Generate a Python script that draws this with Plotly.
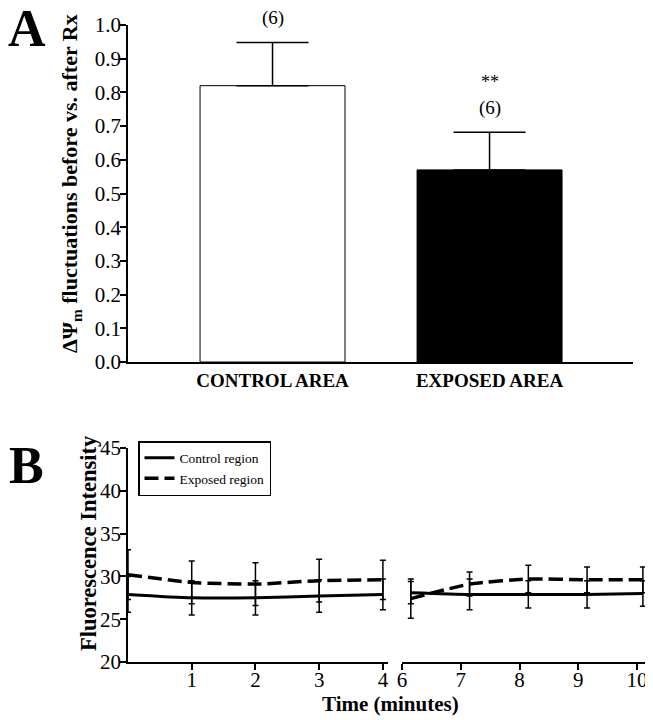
import plotly.graph_objects as go

# The page body adds an 8px margin, so the figure is drawn 8px in from the
# window's top-left corner; layout pixel targets below are window pixels.
OFF = 8
W, H = 653 - OFF, 720 - OFF
SERIF = "Liberation Serif, Times New Roman, serif"

# ---- Panel A data ----
areas = ["CONTROL AREA", "EXPOSED AREA"]
ratio_mean = [0.820, 0.570]
ratio_sem = [0.128, 0.112]
bar_fill = ["white", "black"]
n_labels = ["(6)", "(6)"]
sig_labels = ["", "**"]

# ---- Panel B data ----
t_early = [0, 1, 2, 3, 4]
ctrl_early = [27.9, 27.5, 27.5, 27.7, 27.9]
ctrl_early_err = [2.1, 2.0, 2.0, 1.9, 1.8]
expo_early = [30.2, 29.3, 29.1, 29.5, 29.6]
expo_early_err = [2.9, 2.5, 2.5, 2.5, 2.3]

t_late = [6.15, 7.15, 8.15, 9.15, 10.1]
ctrl_late = [28.1, 27.9, 27.9, 27.9, 28.0]
ctrl_late_err = [1.3, 1.8, 1.6, 1.6, 1.5]
expo_late = [27.4, 29.1, 29.7, 29.6, 29.6]
expo_late_err = [2.3, 1.4, 1.6, 1.5, 1.5]

YMAX_A = 1.0

def px(x):
    return (x - OFF) / W

def py(y):
    return 1 - (y - OFF) / H

fig = go.Figure()

# Panel A bars
fig.add_trace(go.Bar(
    x=[0, 1], y=ratio_mean, width=0.668,
    marker=dict(color=bar_fill, line=dict(color="black", width=1)),
    error_y=dict(type="data", symmetric=False, array=ratio_sem,
                 arrayminus=[0, 0], color="black", thickness=1.5, width=36),
    xaxis="x", yaxis="y", showlegend=False,
))

# Panel B lines
err_style = dict(color="black", thickness=1.5, width=3)
fig.add_trace(go.Scatter(
    x=t_early, y=ctrl_early, mode="lines", name="Control region",
    line=dict(color="black", width=3, shape="spline", smoothing=0.6),
    error_y=dict(type="data", array=ctrl_early_err, **err_style),
    xaxis="x2", yaxis="y2", cliponaxis=False, legendgroup="c",
))
fig.add_trace(go.Scatter(
    x=t_early, y=expo_early, mode="lines", name="Exposed region",
    line=dict(color="black", width=3.5, dash="14px,6px", shape="spline", smoothing=0.6),
    error_y=dict(type="data", array=expo_early_err, **err_style),
    xaxis="x2", yaxis="y2", cliponaxis=False, legendgroup="e",
))
fig.add_trace(go.Scatter(
    x=t_late, y=ctrl_late, mode="lines", name="Control region",
    line=dict(color="black", width=3, shape="spline", smoothing=0.6),
    error_y=dict(type="data", array=ctrl_late_err, **err_style),
    xaxis="x3", yaxis="y2", cliponaxis=False, showlegend=False, legendgroup="c",
))
fig.add_trace(go.Scatter(
    x=t_late, y=expo_late, mode="lines", name="Exposed region",
    line=dict(color="black", width=3.5, dash="14px,6px", shape="spline", smoothing=0.6),
    error_y=dict(type="data", array=expo_late_err, **err_style),
    xaxis="x3", yaxis="y2", cliponaxis=False, showlegend=False, legendgroup="e",
))

tickfont = dict(family=SERIF, size=21, color="black")
axline = dict(showline=True, linecolor="black", linewidth=1.5, showgrid=False,
              zeroline=False, ticks="outside", ticklen=6, tickwidth=1.5,
              tickcolor="black", tickfont=tickfont, automargin=False)

fig.update_layout(
    width=W, height=H,
    margin=dict(l=0, r=0, t=0, b=0, pad=0, autoexpand=False),
    plot_bgcolor="white", paper_bgcolor="white",
    font=dict(family=SERIF, color="black"),
    xaxis=dict(domain=[px(128), px(633)], anchor="y", range=[-0.666, 1.661],
               tickvals=[0, 1], ticktext=["<b>%s</b>" % a for a in areas],
               showline=True, linecolor="black", linewidth=1.5, showgrid=False,
               zeroline=False, ticks="", automargin=False,
               tickfont=dict(family=SERIF, size=19, color="black")),
    yaxis=dict(domain=[py(362), py(25)], anchor="x", range=[0, YMAX_A],
               tickvals=[i / 10 for i in range(11)],
               ticktext=["%.1f" % (i / 10) for i in range(11)],
               ticklabelstandoff=-5, **axline),
    xaxis2=dict(domain=[px(128), px(388)], anchor="y2", range=[0, 4.08],
                tickvals=[1, 2, 3, 4], ticklabelstandoff=-8, **axline),
    xaxis3=dict(domain=[px(402), px(647)], anchor="y2", range=[6, 10.17],
                tickvals=[6, 7, 8, 9, 10], ticklabelstandoff=-8, **axline),
    yaxis2=dict(domain=[py(662), py(448)], anchor="x2", range=[20, 45],
                tickvals=[20, 25, 30, 35, 40, 45], ticklabelstandoff=-5, **axline),
    legend=dict(x=px(138), y=py(441), xanchor="left", yanchor="top",
                bordercolor="black", borderwidth=1.5, bgcolor="white",
                font=dict(family=SERIF, size=13.5, color="black"),
                itemwidth=30, tracegroupgap=0),
)

ann = []
# n labels and significance markers above bars (positioned via the y-axis domain fraction)
for i in range(2):
    top = ratio_mean[i] + ratio_sem[i]
    ann.append(dict(x=i, y=(top + 0.072) / YMAX_A, xref="x", yref="y domain",
                    text=n_labels[i], showarrow=False,
                    xanchor="center", yanchor="middle",
                    font=dict(family=SERIF, size=19, color="black")))
    if sig_labels[i]:
        ann.append(dict(x=i, y=(top + 0.15) / YMAX_A, xref="x", yref="y domain",
                        text=sig_labels[i], showarrow=False,
                        xanchor="center", yanchor="middle",
                        font=dict(family=SERIF, size=18, color="black")))

common = dict(xref="paper", yref="paper", showarrow=False,
              xanchor="center", yanchor="middle")
ann += [
    dict(x=px(71), y=py(184), textangle=-90,
         text="<b>ΔΨ<sub>m</sub> fluctuations before vs. after Rx</b>",
         font=dict(family=SERIF, size=22, color="black"), **common),
    dict(x=px(88), y=py(543), textangle=-90,
         text="<b>Fluorescence Intensity</b>",
         font=dict(family=SERIF, size=22.5, color="black"), **common),
    dict(x=px(390), y=py(704),
         text="<b>Time (minutes)</b>",
         font=dict(family=SERIF, size=21, color="black"), **common),
    dict(x=px(27), y=py(29), text="<b>A</b>",
         font=dict(family=SERIF, size=52, color="black"), **common),
    dict(x=px(26), y=py(465), text="<b>B</b>",
         font=dict(family=SERIF, size=52, color="black"), **common),
]
fig.update_layout(annotations=ann)

fig.write_html("out.html")
